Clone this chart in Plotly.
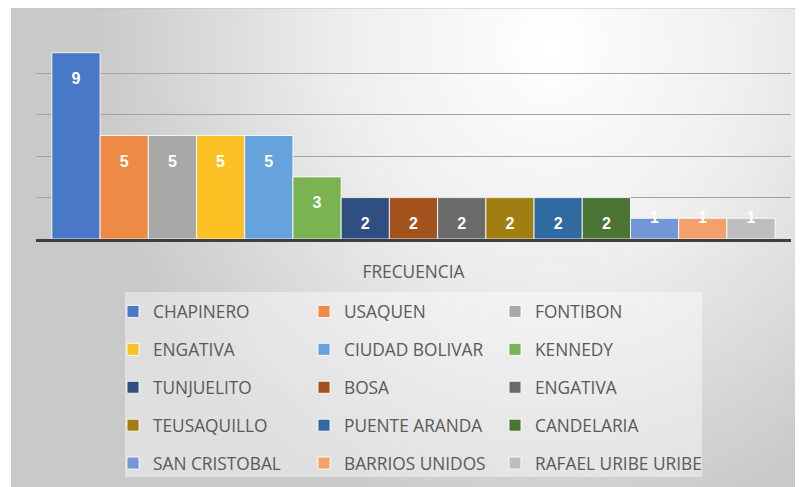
import base64
import plotly.graph_objects as go

# ---------------- data ----------------
categoria = ["FRECUENCIA"]
localidades = ["CHAPINERO", "USAQUEN", "FONTIBON", "ENGATIVA", "CIUDAD BOLIVAR",
               "KENNEDY", "TUNJUELITO", "BOSA", "ENGATIVA", "TEUSAQUILLO",
               "PUENTE ARANDA", "CANDELARIA", "SAN CRISTOBAL", "BARRIOS UNIDOS",
               "RAFAEL URIBE URIBE"]
frecuencias = [9, 5, 5, 5, 5, 3, 2, 2, 2, 2, 2, 2, 1, 1, 1]
colores = ["#4a78c8", "#ed8a45", "#a8a8a8", "#fcc125", "#66a2dc", "#79b352",
           "#2f4f82", "#a3521c", "#6a6a6a", "#a07e12", "#2f6aa0", "#4b7535",
           "#7397d6", "#f2a06c", "#bdbdbd"]
y_grid = [0, 2, 4, 6, 8, 10]

# ---------------- styling ----------------
# the page body adds an 8px margin, so the figure is 8px smaller and shifted
OFF = 8
W, H = 803 - OFF, 487 - OFF
ML, MT = 36 - OFF, 32 - OFF
MR = W - (791 - OFF)
MB = H - (239 - OFF)
PW, PH = W - ML - MR, H - MT - MB
TXT = "#595959"
FONT = "Open Sans, sans-serif"
LEG_FS = 17.3


def px_x(px):
    return (px - OFF - ML) / PW


def px_y(py):
    return (H - MB - (py - OFF)) / PH


fig = go.Figure()
for i, (nombre, valor, color) in enumerate(zip(localidades, frecuencias, colores)):
    if valor >= 2:
        tpl = ("<span style='font-size:2px'>\u00a0</span><br>"
               "<span style='font-size:16px'>%{y}</span>")
        anchor = "end"
    else:
        tpl = ("<span style='font-size:16px'>%{y}</span><br>"
               "<span style='font-size:2px'>\u00a0</span>")
        anchor = "middle"
    fig.add_trace(go.Bar(
        x=categoria, y=[valor],
        name=f"<span style='font-size:{LEG_FS}px;baseline-shift:4px'>{nombre}</span>",
        legendgroup=f"col{i % 3}",
        legendwidth=(200 if i % 3 == 2 else 146),
        marker=dict(color=color, line=dict(color="rgba(255,255,255,0.85)", width=1)),
        texttemplate=tpl, textposition="inside", insidetextanchor=anchor,
        textangle=0, constraintext="none",
        textfont=dict(family="Liberation Sans, Arial, sans-serif", size=20,
                      color="white", weight="bold"),
        hoverinfo="name+y",
    ))

# gradient background (Excel-like chart area)
svg = """<svg xmlns="http://www.w3.org/2000/svg" width="792" height="480" viewBox="0 0 792 480" preserveAspectRatio="none">
<defs><radialGradient id="g" gradientUnits="userSpaceOnUse" cx="0" cy="0" r="1"
 gradientTransform="translate(540 40) scale(460 490)">
<stop offset="0" stop-color="#ffffff"/>
<stop offset="0.45" stop-color="#eeeeee"/>
<stop offset="1" stop-color="#c9c9c9"/>
</radialGradient></defs>
<rect x="0" y="0" width="792" height="480" fill="url(#g)"/>
<line x1="0" y1="0.75" x2="792" y2="0.75" stroke="#c2c2c2" stroke-width="1.5"/>
</svg>"""
src = "data:image/svg+xml;base64," + base64.b64encode(svg.encode()).decode()

fig.update_layout(
    width=W, height=H,
    margin=dict(l=ML, r=MR, t=MT, b=MB, autoexpand=False),
    paper_bgcolor="white", plot_bgcolor="rgba(0,0,0,0)",
    barmode="group", bargap=0.042, bargroupgap=0,
    font=dict(family=FONT, color=TXT),
    images=[dict(source=src, xref="paper", yref="paper",
                 x=px_x(11), y=px_y(7), sizex=792 / PW, sizey=480 / PH,
                 xanchor="left", yanchor="top", sizing="stretch", layer="below")],
    shapes=[dict(type="rect", xref="paper", yref="paper",
                 x0=px_x(125), x1=px_x(702), y0=px_y(477), y1=px_y(292),
                 fillcolor="rgba(255,255,255,0.42)", line=dict(width=0), layer="below")],
    legend=dict(orientation="h", x=px_x(113), y=px_y(287.5),
                xanchor="left", yanchor="top",
                bgcolor="rgba(0,0,0,0)", borderwidth=0,
                entrywidth=146, entrywidthmode="pixels",
                font=dict(family=FONT, size=26.85, color=TXT),
                traceorder="grouped"),
    showlegend=True,
)
fig.update_xaxes(type="category", showline=True, linecolor="#3f3f3f", linewidth=3,
                 showgrid=False, ticks="", ticklabelstandoff=15,
                 tickfont=dict(family=FONT, size=LEG_FS, color=TXT))
fig.update_yaxes(range=[0, 10], tickvals=y_grid, showticklabels=False,
                 showgrid=True, gridcolor="#a2a2a2", gridwidth=1.3,
                 zeroline=False, showline=False)

fig.write_html("out.html")
